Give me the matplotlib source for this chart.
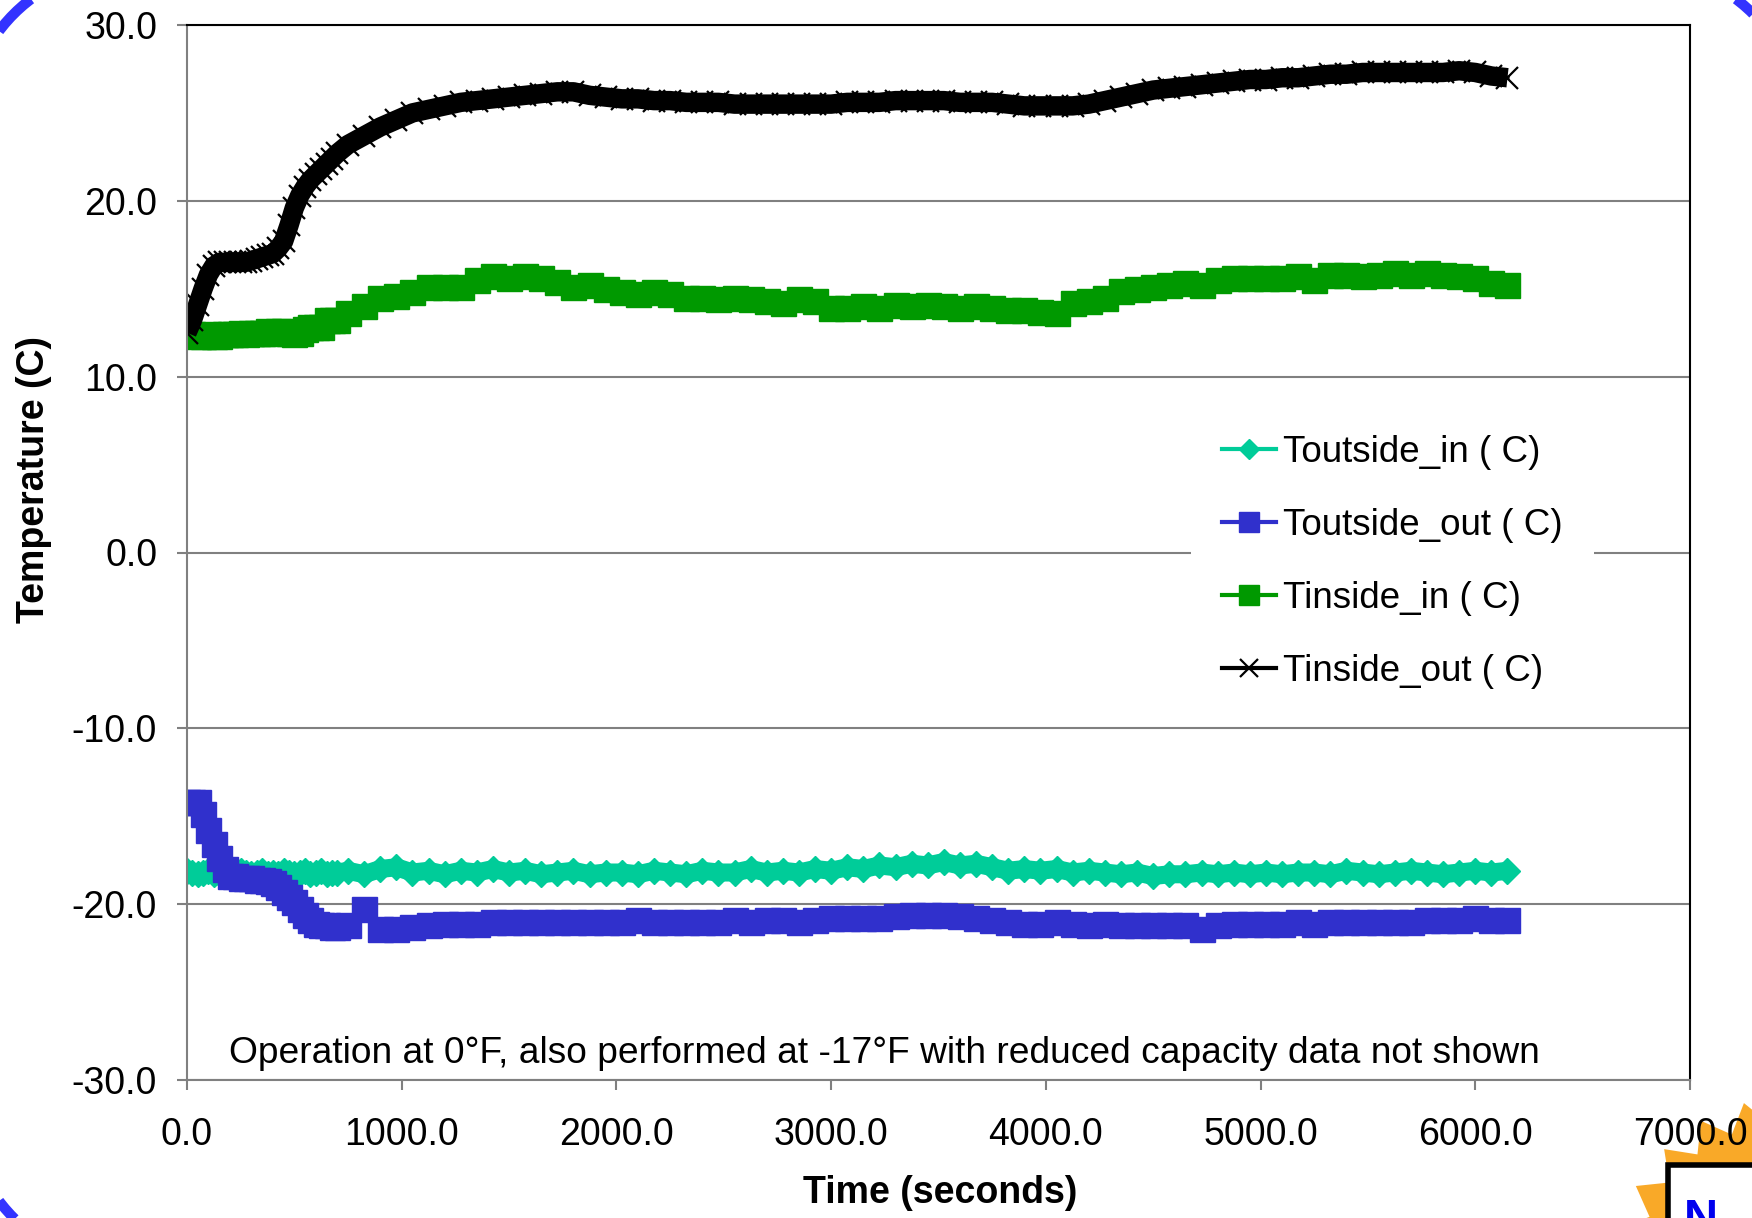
import numpy as np
import matplotlib
matplotlib.use('Agg')
import matplotlib.pyplot as plt
from matplotlib.patches import Polygon, Rectangle
from matplotlib.ticker import MultipleLocator, FormatStrFormatter

plt.rcParams['font.family'] = ['Liberation Sans', 'DejaVu Sans']

FONTSIZE = 27

# sample times [s]: 25 s steps during start-up, 75 s afterwards
time_s = np.concatenate([np.arange(0, 725, 25), np.arange(750, 6225, 75)])

# outdoor coil inlet [C]
t_outside_in = [
    -18.1, -18.2, -18.3, -18.2, -18.1, -18.3, -18.2, -18.1, -18.2, -18.3,
    -18.1, -18.2, -18.3, -18.2, -18.1, -18.3, -18.2, -18.3, -18.1, -18.2,
    -18.3, -18.2, -18.1, -18.3, -18.2, -18.1, -18.3, -18.2, -18.2,
    -18.1, -18.3, -18.0, -17.9, -18.2, -18.1, -18.3, -18.1, -18.2, -18.0,
    -18.2, -18.1, -18.3, -18.2, -18.1, -18.3, -18.2, -18.2, -18.3, -18.1,
    -18.2, -18.3, -18.1, -18.2, -18.2, -18.0, -18.2, -18.1, -18.2, -18.0,
    -18.1, -17.9, -18.0, -17.8, -17.9, -17.7, -17.8, -17.6, -17.8, -17.7,
    -17.9, -18.1, -18.0, -18.1, -18.0, -18.2, -18.1, -18.2, -18.3, -18.2,
    -18.4, -18.3, -18.3, -18.2, -18.3, -18.2, -18.3, -18.2, -18.3, -18.2,
    -18.2, -18.3, -18.1, -18.2, -18.3, -18.2, -18.1, -18.2, -18.3, -18.2,
    -18.1, -18.2, -18.1,
]

# outdoor coil outlet [C]
t_outside_out = [
    -14.2, -14.2, -14.2, -14.9, -15.8, -16.6, -17.4, -18.0, -18.4, -18.4,
    -18.5, -18.5, -18.5, -18.6, -18.6, -18.7, -18.8, -19.0, -19.3, -19.6,
    -19.9, -20.3, -20.6, -20.9, -21.1, -21.2, -21.2, -21.3, -21.3,
    -21.2, -20.3, -21.4, -21.4, -21.3, -21.2, -21.1, -21.1, -21.1, -21.0,
    -21.0, -21.0, -21.0, -21.0, -21.0, -21.0, -21.0, -21.0, -20.9, -21.0,
    -21.0, -21.0, -21.0, -21.0, -20.9, -21.0, -20.9, -20.9, -21.0, -20.9,
    -20.8, -20.8, -20.8, -20.8, -20.7, -20.6, -20.6, -20.6, -20.7, -20.8,
    -20.9, -21.0, -21.1, -21.1, -21.0, -21.1, -21.2, -21.1, -21.2, -21.2,
    -21.2, -21.2, -21.2, -21.4, -21.2, -21.1, -21.1, -21.1, -21.1, -21.0,
    -21.1, -21.0, -21.0, -21.0, -21.0, -21.0, -21.0, -20.9, -20.9, -20.9,
    -20.8, -20.9, -20.9,
]

# indoor coil inlet [C]
t_inside_in = [
    12.6, 12.4, 12.3, 12.3, 12.4, 12.3, 12.3, 12.4, 12.4, 12.4,
    12.5, 12.4, 12.5, 12.5, 12.5, 12.6, 12.5, 12.6, 12.6, 12.5,
    12.4, 12.5, 12.7, 12.8, 12.8, 12.8, 13.2, 13.2, 13.2,
    13.6, 14.0, 14.5, 14.6, 14.8, 15.1, 15.1, 15.1, 15.5, 15.7,
    15.6, 15.7, 15.6, 15.4, 15.1, 15.2, 15.0, 14.8, 14.7, 14.8,
    14.7, 14.5, 14.5, 14.4, 14.5, 14.4, 14.3, 14.2, 14.4, 14.3,
    13.9, 13.9, 14.0, 13.9, 14.1, 14.0, 14.1, 14.0, 13.9, 14.0,
    13.9, 13.8, 13.8, 13.7, 13.6, 14.2, 14.3, 14.5, 14.9, 15.0,
    15.1, 15.2, 15.3, 15.2, 15.5, 15.6, 15.6, 15.6, 15.6, 15.7,
    15.5, 15.8, 15.8, 15.7, 15.8, 15.9, 15.8, 15.9, 15.8, 15.7,
    15.6, 15.3, 15.2,
]

# indoor coil outlet [C]
t_inside_out = [
    12.5, 13.2, 14.1, 15.0, 15.8, 16.3, 16.5, 16.5, 16.5, 16.5,
    16.5, 16.5, 16.6, 16.7, 16.8, 16.9, 17.0, 17.3, 17.7, 18.6,
    19.6, 20.3, 20.8, 21.2, 21.5, 21.8, 22.1, 22.4, 22.7,
    23.2, 23.7, 24.2, 24.6, 25.0, 25.2, 25.4, 25.6, 25.7, 25.8,
    25.9, 26.0, 26.1, 26.2, 26.2, 26.0, 25.9, 25.8, 25.8, 25.7,
    25.7, 25.6, 25.6, 25.6, 25.5, 25.5, 25.5, 25.5, 25.5, 25.5,
    25.5, 25.6, 25.6, 25.6, 25.7, 25.7, 25.7, 25.7, 25.6, 25.6,
    25.6, 25.5, 25.4, 25.4, 25.4, 25.4, 25.5, 25.7, 25.9, 26.1,
    26.3, 26.4, 26.5, 26.6, 26.7, 26.8, 26.9, 26.9, 27.0, 27.0,
    27.1, 27.2, 27.2, 27.3, 27.3, 27.3, 27.3, 27.3, 27.3, 27.4,
    27.3, 27.1, 27.0,
]

labels = ['Toutside_in ( C)', 'Toutside_out ( C)', 'Tinside_in ( C)', 'Tinside_out ( C)']
note = 'Operation at 0°F, also performed at -17°F with reduced capacity data not shown'

W, H = 1752, 1218
fig = plt.figure(figsize=(W / 100, H / 100), dpi=100)

# slide frame and logo, drawn in pixel units behind the chart
deco = fig.add_axes([0, 0, 1, 1])
deco.set_xlim(0, W)
deco.set_ylim(H, 0)
deco.axis('off')
deco.set_zorder(0)

x0, y0, x1, y1, r = -33, -33, 1800, 1265, 160
q = np.pi / 2
corners = [(x0 + r, y0 + r, 2 * q), (x1 - r, y0 + r, 3 * q),
           (x1 - r, y1 - r, 0), (x0 + r, y1 - r, q)]
frame = np.vstack([np.c_[cx + r * np.cos(np.linspace(a, a + q, 30)),
                         cy + r * np.sin(np.linspace(a, a + q, 30))]
                   for cx, cy, a in corners])
deco.add_patch(Polygon(frame, closed=True, fill=False, edgecolor='#3333FF',
                       linewidth=7.5))

cx, cy = 1790, 1275
ang = np.linspace(0, 2 * np.pi, 49)[:-1]
rad = np.where(np.arange(48) % 2 == 0, 178, 152)
deco.add_patch(Polygon(np.c_[cx + rad * np.cos(ang), cy + rad * np.sin(ang)],
                       closed=True, facecolor='#F9A928', edgecolor='none'))
deco.add_patch(Rectangle((1668, 1165), 130, 90, facecolor='white',
                         edgecolor='black', linewidth=4))
deco.text(1684, 1232, 'N', color='#0000EE', fontsize=34, fontweight='bold',
          va='baseline', ha='left')

ax = fig.add_axes([187 / W, 1 - 1080 / H, (1690 - 187) / W, (1080 - 25) / H])
ax.set_zorder(1)

# outdoor coil
ax.plot(time_s, t_outside_in, color='#00CC99', lw=13, solid_capstyle='butt')
ax.plot(time_s, t_outside_in, color='#00CC99', lw=3, marker='D', ms=13,
        mec='#00CC99', label=labels[0])
ax.plot(time_s, t_outside_out, color='#3030CC', lw=3, marker='s', ms=18,
        mec='#3030CC', label=labels[1])
# indoor coil
ax.plot(time_s, t_inside_in, color='#009900', lw=3, marker='s', ms=18,
        mec='#009900', label=labels[2])
ax.plot(time_s, t_inside_out, color='black', lw=14, solid_capstyle='butt')
ax.plot(time_s, t_inside_out, color='black', lw=3, marker='x', ms=16,
        mew=1.6, label=labels[3])

ax.set_xlim(0, 7000)
ax.set_ylim(-30, 30)
ax.xaxis.set_major_locator(MultipleLocator(1000))
ax.yaxis.set_major_locator(MultipleLocator(10))
ax.xaxis.set_major_formatter(FormatStrFormatter('%.1f'))
ax.yaxis.set_major_formatter(FormatStrFormatter('%.1f'))
ax.grid(True, axis='y', color='#808080', lw=1.5)
ax.set_axisbelow(True)

ax.spines['left'].set_color('#808080')
ax.spines['bottom'].set_color('#808080')
ax.spines['top'].set_color('black')
ax.spines['right'].set_color('black')
for s in ax.spines.values():
    s.set_linewidth(1.5)
ax.tick_params(axis='both', direction='out', length=7.5, width=1.5,
               color='#808080', labelsize=FONTSIZE)
ax.tick_params(axis='x', pad=19)
ax.tick_params(axis='y', pad=14)

ax.set_xlabel('Time (seconds)', fontsize=FONTSIZE, fontweight='bold')
ax.set_ylabel('Temperature (C)', fontsize=FONTSIZE, fontweight='bold')
ax.xaxis.set_label_coords(0.501, -0.09)
ax.yaxis.set_label_coords(-0.09, 0.569)

ax.text(3250, -28.5, note, ha='center', va='center', fontsize=26.7)

leg = ax.legend(loc='center left', bbox_to_anchor=(0.6557, 0.491), fontsize=26.5,
                frameon=True, facecolor='white', edgecolor='none', framealpha=1,
                fancybox=False, borderpad=0.85, handlelength=1.45,
                handletextpad=0.2, labelspacing=1.03, markerscale=0.8)

fig.savefig('out.png', dpi=100)
